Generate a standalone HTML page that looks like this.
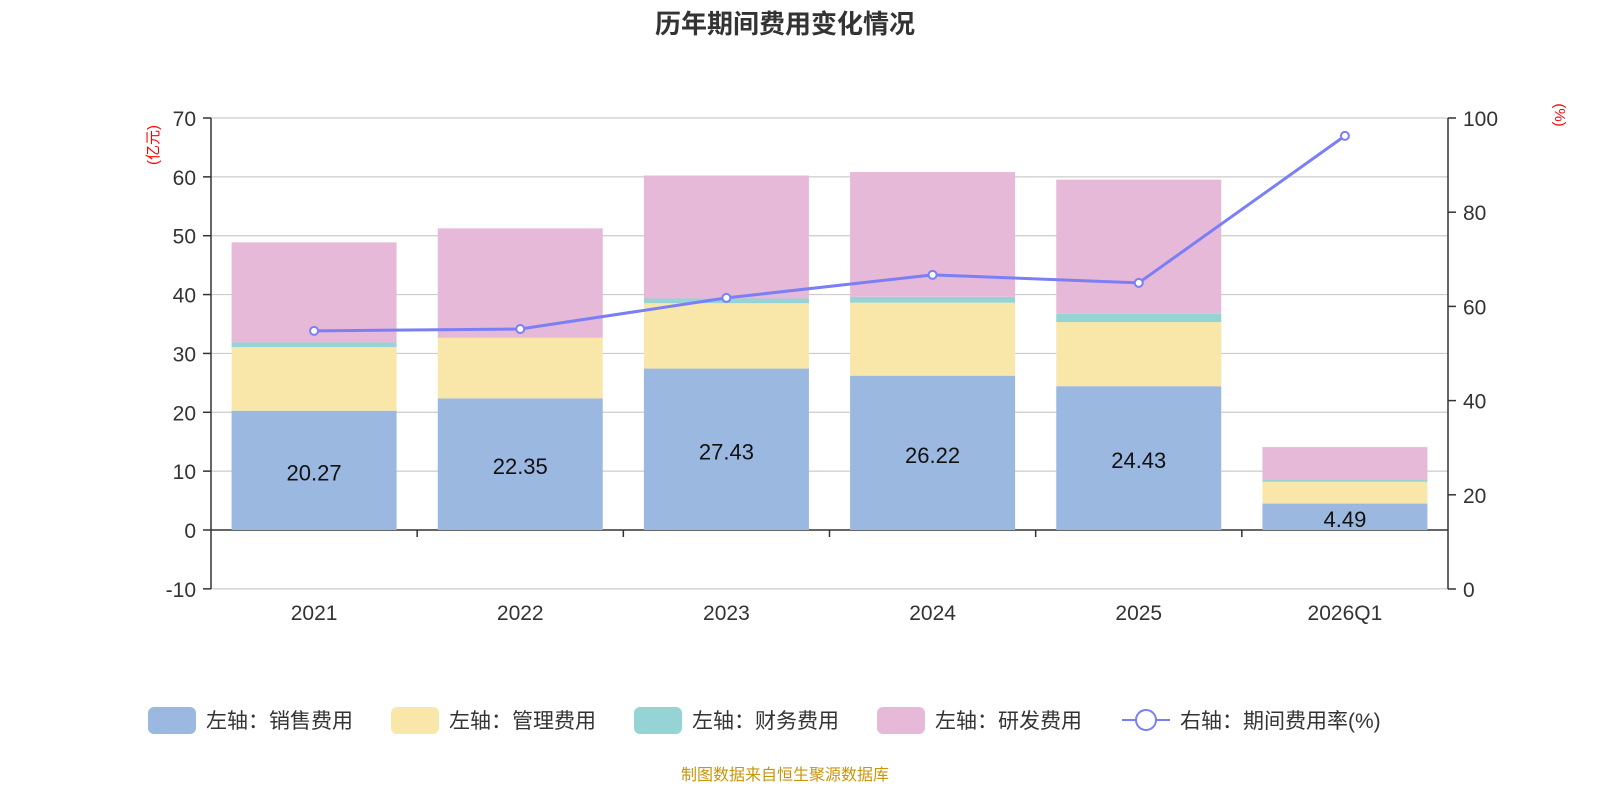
<!DOCTYPE html>
<html><head><meta charset="utf-8"><style>
body{margin:0;background:#fff;font-family:"Liberation Sans","Noto Sans CJK SC",sans-serif;}
svg text{font-family:"Liberation Sans","Noto Sans CJK SC",sans-serif;}
</style></head><body>
<svg id="chart" width="1600" height="800" xmlns="http://www.w3.org/2000/svg">
<text x="785" y="33" text-anchor="middle" font-size="26" font-weight="bold" fill="#333">历年期间费用变化情况</text>
<text transform="translate(158,145) rotate(-90)" text-anchor="middle" font-size="15" fill="red">(亿元)</text>
<text transform="translate(1555,115) rotate(90)" text-anchor="middle" font-size="15" fill="red">(%)</text>
<g id="grid"></g><g id="bars"></g><g id="axes"></g><g id="line"></g>
<text x="785" y="780" text-anchor="middle" font-size="16" fill="#c8960c">制图数据来自恒生聚源数据库</text>
<g id="legend"></g>
</svg>
<script>
const categories=["2021","2022","2023","2024","2025","2026Q1"];
const sales=[20.27,22.35,27.43,26.22,24.43,4.49];
const admin=[10.8,10.3,11.1,12.4,10.9,3.7];
const finance=[0.8,0.1,0.8,1.0,1.4,0.3];
const rnd=[17.0,18.5,20.9,21.2,22.8,5.6];
const rate=[54.8,55.2,61.8,66.7,65.0,96.2];
const leftTicks=[-10,0,10,20,30,40,50,60,70];
const rightTicks=[0,20,40,60,80,100];
const NS="http://www.w3.org/2000/svg";
const X0=211,X1=1448,TOP=118,BOT=589;
const yL=v=>530-(v)*(412/70);
const yR=v=>BOT-v*(BOT-TOP)/100;
const bw=(X1-X0)/categories.length;
const xc=i=>X0+bw*(i+0.5);
function mk(tag,attrs,parent,text){const e=document.createElementNS(NS,tag);for(const k in attrs)e.setAttribute(k,attrs[k]);if(text!==undefined)e.textContent=text;document.getElementById(parent).appendChild(e);return e;}
leftTicks.forEach(t=>{
 const g=mk('line',{x1:X0,x2:X1,y1:yL(t),y2:yL(t),stroke:t===0?'#333':'#ccc','stroke-width':t===0?1.5:1.2},'grid');
 
 
 const l=mk('text',{x:X0-15,y:yL(t)+8,'text-anchor':'end','font-size':21,fill:'#333'},'axes',String(t));
 
 
 mk('line',{x1:X0-8,x2:X0,y1:yL(t),y2:yL(t),stroke:'#333','stroke-width':1.5},'axes');
});
rightTicks.forEach(t=>{
 const l=mk('text',{x:X1+15,y:yR(t)+8,'font-size':21,fill:'#333'},'axes',String(t));
 
 
 mk('line',{x1:X1,x2:X1+8,y1:yR(t),y2:yR(t),stroke:'#333','stroke-width':1.5},'axes');
});
mk('line',{x1:X0,x2:X0,y1:TOP,y2:BOT,stroke:'#333','stroke-width':1.5},'axes');
mk('line',{x1:X1,x2:X1,y1:TOP,y2:BOT,stroke:'#333','stroke-width':1.5},'axes');
for(let i=1;i<categories.length;i++)mk('line',{x1:X0+bw*i,x2:X0+bw*i,y1:530,y2:537,stroke:'#333','stroke-width':1.5},'axes');
const series=[[sales,'#9bb8e1','sales'],[admin,'#f8e7a9','admin'],[finance,'#95d3d4','finance'],[rnd,'#e7b9d8','rnd']];
categories.forEach((c,i)=>{
 let base=0;
 series.forEach(([arr,col,nm])=>{
  const r=mk('rect',{x:xc(i)-82.5,width:165,y:yL(base+arr[i]),height:Math.max(0,yL(base)-yL(base+arr[i])),fill:col},'bars');
  
  
  base+=arr[i];
 });
 const t=mk('text',{x:xc(i),y:(yL(0)+yL(sales[i]))/2+10,'text-anchor':'middle','font-size':22,fill:'#111'},'bars',sales[i].toFixed(2));
 
 
 const xl=mk('text',{x:xc(i),y:620,'text-anchor':'middle','font-size':21,fill:'#333'},'axes',c);
 
 
});
const pl=mk('polyline',{points:rate.map((v,i)=>xc(i)+','+yR(v)).join(' '),fill:'none',stroke:'#7b7ff5','stroke-width':3},'line');


rate.forEach((v,i)=>{
 const p=mk('circle',{cx:xc(i),cy:yR(v),r:4,fill:'#fff',stroke:'#7b7ff5','stroke-width':2},'line');
 
 
});
const legendItems=[['左轴：销售费用','#9bb8e1',148],['左轴：管理费用','#f8e7a9',391],['左轴：财务费用','#95d3d4',634],['左轴：研发费用','#e7b9d8',877]];
legendItems.forEach(([t,col,x])=>{
 const r=mk('rect',{x:x,y:707,width:48,height:27,rx:6,fill:col},'legend');
 
 
 const tx=mk('text',{x:x+58,y:728,'font-size':21,fill:'#333'},'legend',t);
 
 
});
mk('line',{x1:1122,x2:1170,y1:720,y2:720,stroke:'#7b7ff5','stroke-width':2},'legend');
const lc=mk('circle',{cx:1146,cy:720,r:10,fill:'#fff',stroke:'#7b7ff5','stroke-width':2},'legend');


const lt=mk('text',{x:1180,y:728,'font-size':21,fill:'#333'},'legend','右轴：期间费用率(%)');


</script>
</body></html>
